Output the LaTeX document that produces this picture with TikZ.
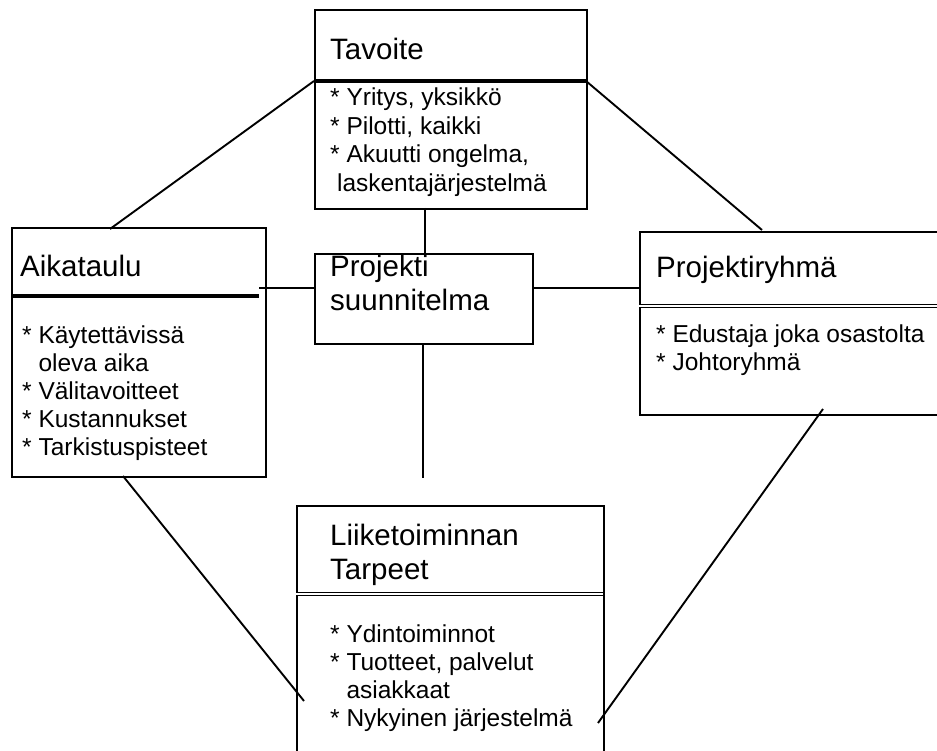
\documentclass[tikz,border=0pt]{standalone}
\usepackage{fontspec}
\setmainfont{Liberation Sans}
\begin{document}
\begin{tikzpicture}[x=1pt,y=-1pt,
  frame/.style={draw,line width=1.9pt,inner sep=0pt,anchor=north west},
  link/.style={line width=1.9pt},
  heavyrule/.style={line width=3.8pt},
  doublerule/.style={line width=1.2pt,double,double distance=1.1pt},
  head/.style={anchor=base west,inner sep=0pt,font=\fontsize{29.5}{34}\selectfont},
  item/.style={anchor=base west,inner sep=0pt,font=\fontsize{24.5}{28}\selectfont}]
\useasboundingbox (0,0) rectangle (937,751);
\clip (0,0) rectangle (937,751);

% boxes
\node[frame,minimum width=272pt,minimum height=199pt] (tav) at (314,9) {};
\node[frame,minimum width=254pt,minimum height=249pt] (aika) at (11,227) {};
\node[frame,minimum width=218pt,minimum height=90pt]  (plan) at (314,253) {};
\node[frame,minimum width=310pt,minimum height=183pt] (ryhma) at (639,231) {};
\node[frame,minimum width=307pt,minimum height=260pt] (liike) at (296,505) {};

% dividers under the headings
\draw[heavyrule] (314,81) -- (586,81);
\draw[line width=3.3pt] (11,296) -- (259,296);
\draw[doublerule] (639,306) -- (945,306);
\draw[doublerule] (296,594) -- (603,594);

% Tavoite
\node[head] (tavh) at (330,60) {Tavoite};
\node[item] (tav1) at (330,106) {* Yritys, yksikkö};
\node[item] (tav2) at (330,135) {* Pilotti, kaikki};
\node[item] (tav3) at (330,163) {* Akuutti ongelma,};
\node[item] (tav4) at (330,192) {\hspace{0.28em}laskentajärjestelmä};

% Aikataulu
\node[head] (aikah) at (20,277) {Aikataulu};
\node[item] (aika1) at (22,343) {* Käytettävissä};
\node[item] (aika2) at (22,371) {\phantom{* }oleva aika};
\node[item] (aika3) at (22,399) {* Välitavoitteet};
\node[item] (aika4) at (22,427) {* Kustannukset};
\node[item] (aika5) at (22,455) {* Tarkistuspisteet};

% Projekti suunnitelma
\node[head] (plan1) at (330,277) {Projekti};
\node[head] (plan2) at (330,311) {suunnitelma};

% Projektiryhmä
\node[head] (ryhmah) at (656,278) {Projektiryhmä};
\node[item] (ryhma1) at (656,342) {* Edustaja joka osastolta};
\node[item] (ryhma2) at (656,370) {* Johtoryhmä};

% Liiketoiminnan Tarpeet
\node[head] (liike1) at (330,545) {Liiketoiminnan};
\node[head] (liike2) at (330,579) {Tarpeet};
\node[item] (liike3) at (330,642) {* Ydintoiminnot};
\node[item] (liike4) at (330,670) {* Tuotteet, palvelut};
\node[item] (liike5) at (330,698) {\phantom{* }asiakkaat};
\node[item] (liike6) at (330,726) {* Nykyinen järjestelmä};

% connector end points
\coordinate (tavL) at (314,81);
\coordinate (tavR) at (586,81);
\coordinate (tavB) at (425,208);
\coordinate (planT) at (425,253);
\coordinate (planB) at (423,343);
\coordinate (planEnd) at (423,478);
\coordinate (planL) at (314,288);
\coordinate (planR) at (532,288);
\coordinate (aikaT) at (110,229);
\coordinate (aikaR) at (259,288);
\coordinate (aikaB) at (123,476);
\coordinate (ryhmaT) at (762,230);
\coordinate (ryhmaL) at (639,288);
\coordinate (ryhmaB) at (823,409);
\coordinate (liikeL) at (304,701);
\coordinate (liikeR) at (598,723);

% connectors
\draw[link] (tavL) -- (aikaT);
\draw[link] (tavR) -- (ryhmaT);
\draw[link] (tavB) -- (planT);
\draw[link] (aikaR) -- (planL);
\draw[link] (planR) -- (ryhmaL);
\draw[link] (planB) -- (planEnd);
\draw[link] (aikaB) -- (liikeL);
\draw[link] (ryhmaB) -- (liikeR);
\end{tikzpicture}
\end{document}
